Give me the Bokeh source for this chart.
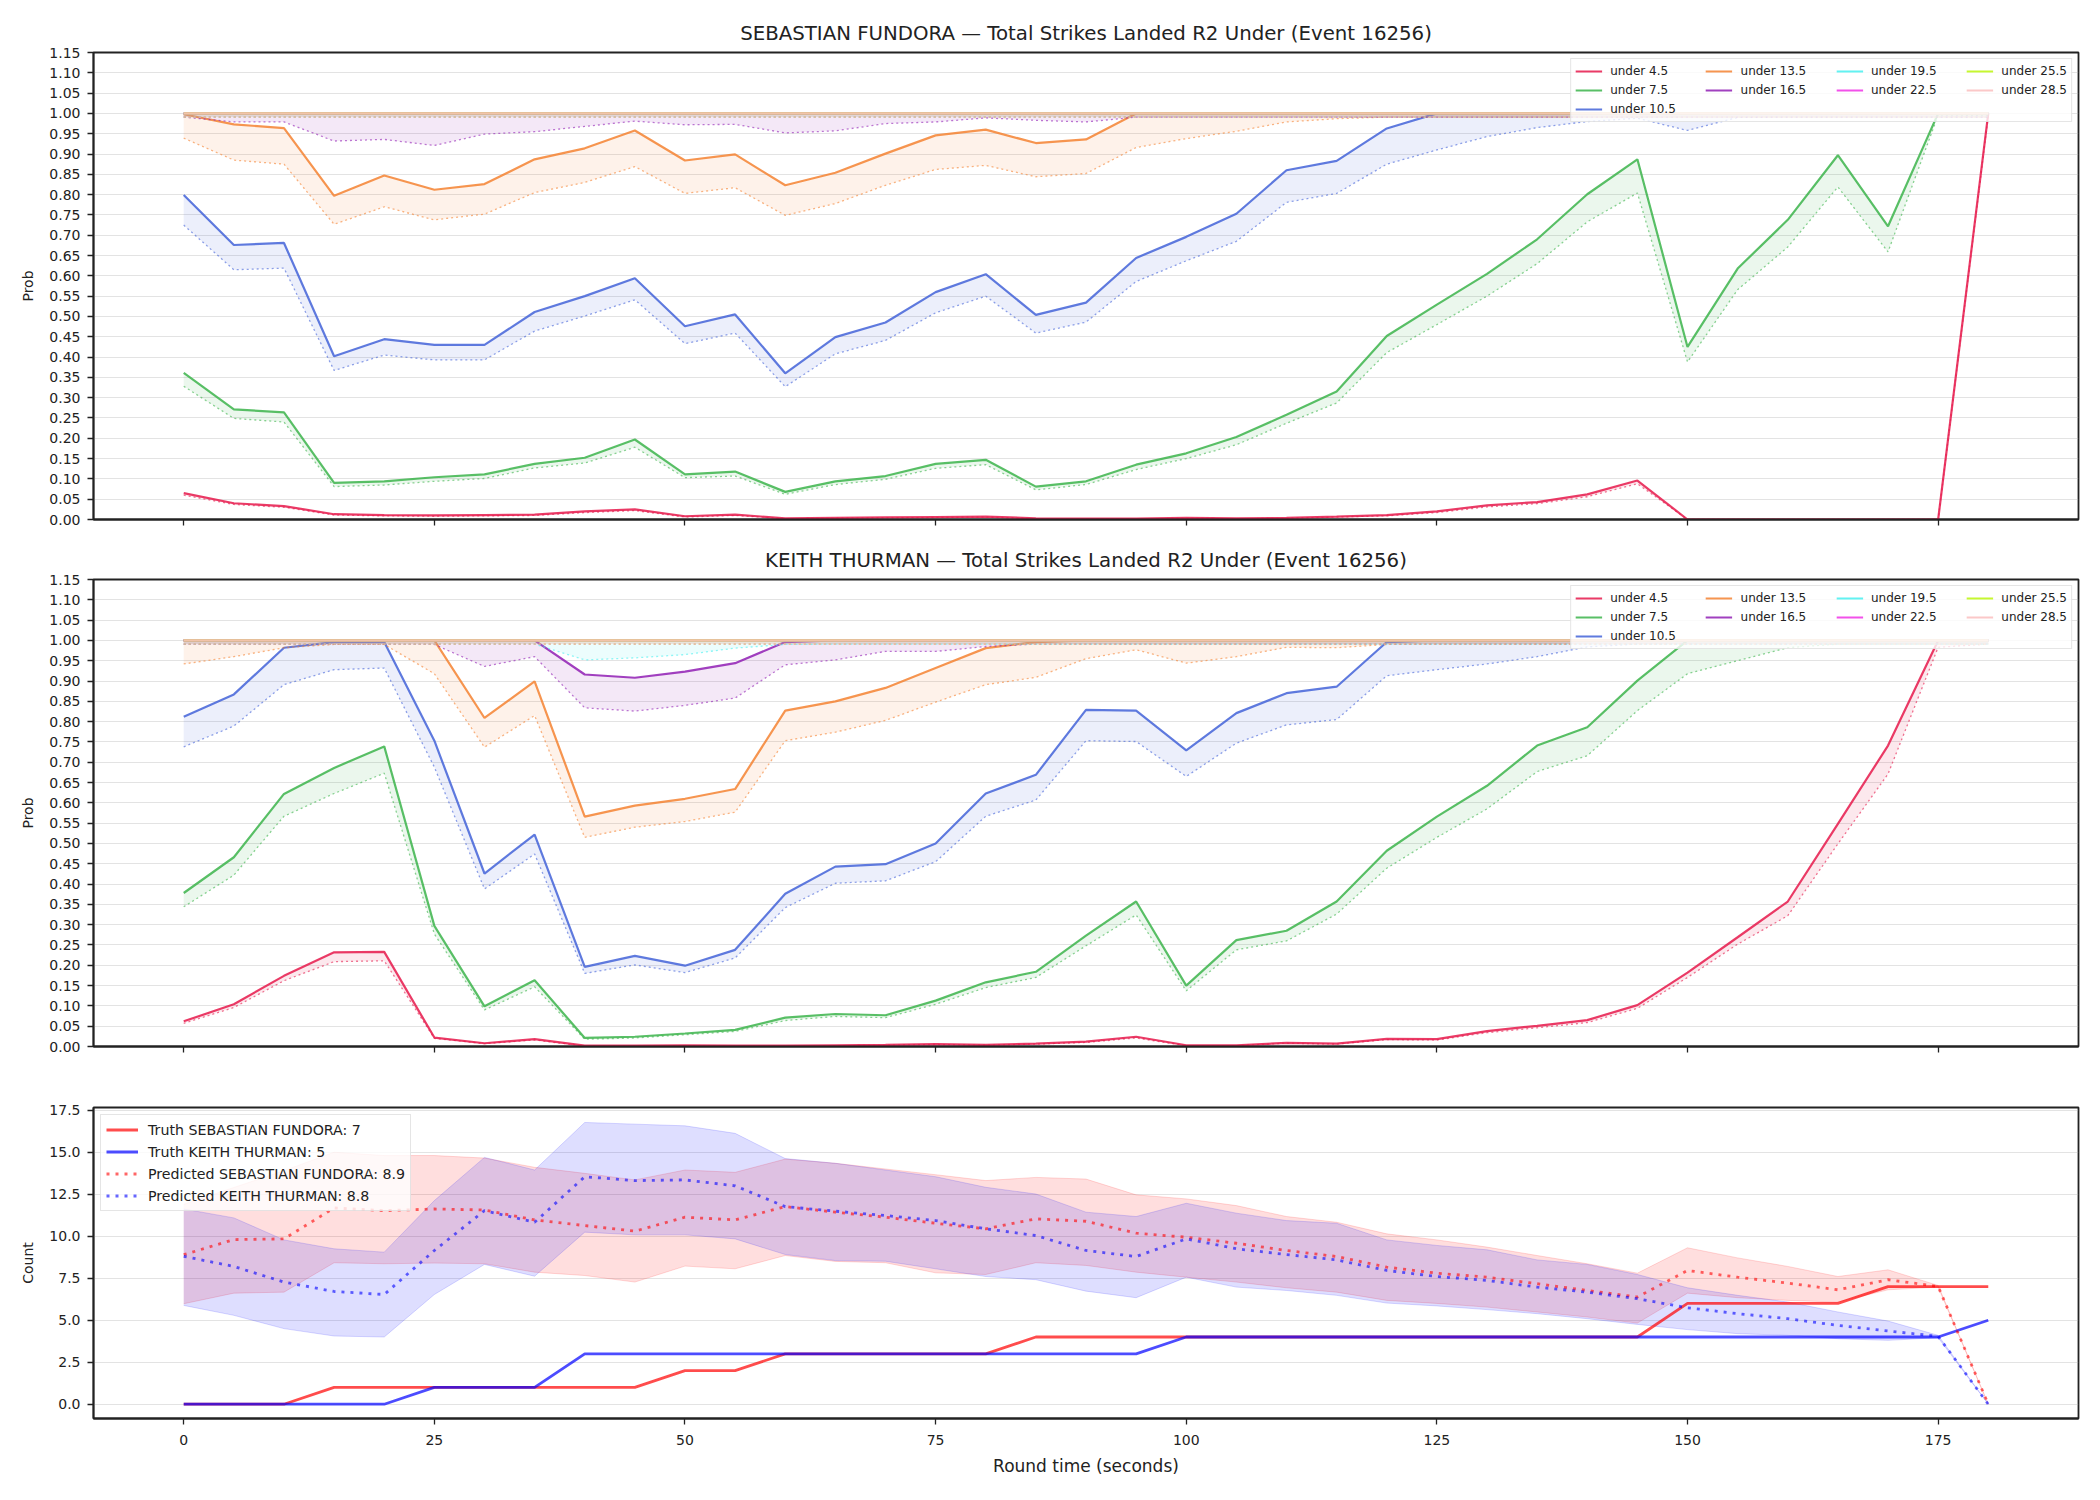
from bokeh.plotting import figure
from bokeh.models import Range1d, FixedTicker, PrintfTickFormatter, Legend, LegendItem
from bokeh.layouts import column
from bokeh.embed import file_html
from bokeh.resources import INLINE

# ---------------------------------------------------------------- data
round_time = [0, 5, 10, 15, 20, 25, 30, 35, 40, 45, 50, 55, 60, 65, 70, 75, 80, 85, 90,
              95, 100, 105, 110, 115, 120, 125, 130, 135, 140, 145, 150, 155, 160, 165,
              170, 175, 180]

line_labels = ["under 4.5", "under 7.5", "under 10.5", "under 13.5", "under 16.5",
               "under 19.5", "under 22.5", "under 25.5", "under 28.5"]
line_colors = ["#e6194b", "#3cb44b", "#4363d8", "#f58231", "#911eb4",
               "#46f0f0", "#f032e6", "#bcf60c", "#fabebe"]

prob_ticks = [0.00, 0.05, 0.10, 0.15, 0.20, 0.25, 0.30, 0.35, 0.40, 0.45, 0.50, 0.55,
              0.60, 0.65, 0.70, 0.75, 0.80, 0.85, 0.90, 0.95, 1.00, 1.05, 1.10, 1.15]
time_ticks = [0, 25, 50, 75, 100, 125, 150, 175]
count_ticks = [0.0, 2.5, 5.0, 7.5, 10.0, 12.5, 15.0, 17.5]

ONE = [1.0, 1.0, 1.0, 1.0, 1.0, 1.0, 1.0, 1.0, 1.0, 1.0, 1.0, 1.0, 1.0, 1.0, 1.0, 1.0, 1.0, 1.0, 1.0,
       1.0, 1.0, 1.0, 1.0, 1.0, 1.0, 1.0, 1.0, 1.0, 1.0, 1.0, 1.0, 1.0, 1.0, 1.0, 1.0, 1.0, 1.0]
NEAR_ONE = [0.991, 0.991, 0.991, 0.991, 0.991, 0.991, 0.991, 0.991, 0.991, 0.991, 0.991, 0.991,
            0.991, 0.991, 0.991, 0.991, 0.991, 0.991, 0.991, 0.991, 0.991, 0.991, 0.991, 0.991,
            0.991, 0.991, 0.991, 0.991, 0.991, 0.991, 0.991, 0.991, 0.991, 0.991, 0.991, 0.991, 0.991]

# SEBASTIAN FUNDORA: solid = model probability, dotted = lower reference curve
fundora_u45 = [0.065, 0.040, 0.033, 0.013, 0.011, 0.010, 0.011, 0.012, 0.020, 0.025, 0.008, 0.012, 0.003,
               0.004, 0.005, 0.006, 0.007, 0.003, 0.002, 0.002, 0.004, 0.003, 0.004, 0.007, 0.011, 0.020,
               0.035, 0.043, 0.062, 0.096, 0.0, 0.0, 0.0, 0.0, 0.0, 0.0, 1.0]
fundora_u45_ref = [0.060, 0.037, 0.030, 0.011, 0.009, 0.008, 0.009, 0.010, 0.017, 0.022, 0.006, 0.010, 0.002,
                   0.003, 0.004, 0.005, 0.006, 0.002, 0.001, 0.001, 0.003, 0.002, 0.003, 0.006, 0.009, 0.017,
                   0.031, 0.039, 0.056, 0.088, 0.0, 0.0, 0.0, 0.0, 0.0, 0.0, 0.995]
fundora_u75 = [0.361, 0.271, 0.264, 0.090, 0.094, 0.104, 0.111, 0.137, 0.152, 0.197, 0.111, 0.118, 0.068,
               0.094, 0.107, 0.137, 0.147, 0.081, 0.094, 0.135, 0.163, 0.203, 0.258, 0.315, 0.452, 0.529,
               0.605, 0.690, 0.801, 0.887, 0.425, 0.618, 0.738, 0.897, 0.722, 1.0, 1.0]
fundora_u75_ref = [0.328, 0.249, 0.240, 0.081, 0.085, 0.094, 0.101, 0.127, 0.139, 0.178, 0.103, 0.107, 0.062,
                   0.086, 0.099, 0.126, 0.135, 0.073, 0.086, 0.123, 0.150, 0.184, 0.237, 0.287, 0.411, 0.480,
                   0.550, 0.630, 0.733, 0.804, 0.388, 0.566, 0.671, 0.819, 0.659, 0.996, 0.995]
fundora_u105 = [0.799, 0.676, 0.681, 0.402, 0.444, 0.430, 0.430, 0.511, 0.550, 0.594, 0.476, 0.505, 0.360,
                0.449, 0.485, 0.560, 0.604, 0.504, 0.534, 0.644, 0.696, 0.753, 0.860, 0.883, 0.963, 1.0,
                1.0, 1.0, 1.0, 1.0, 1.0, 1.0, 1.0, 1.0, 1.0, 1.0, 1.0]
fundora_u105_ref = [0.725, 0.615, 0.619, 0.367, 0.405, 0.393, 0.393, 0.464, 0.501, 0.541, 0.433, 0.459, 0.327,
                    0.408, 0.441, 0.509, 0.550, 0.459, 0.486, 0.586, 0.637, 0.685, 0.781, 0.803, 0.875, 0.910,
                    0.943, 0.965, 0.980, 0.988, 0.958, 0.990, 0.991, 0.991, 0.991, 0.991, 0.991]
fundora_u135 = [0.998, 0.973, 0.964, 0.797, 0.847, 0.812, 0.826, 0.887, 0.914, 0.958, 0.884, 0.899, 0.823,
                0.854, 0.901, 0.946, 0.960, 0.927, 0.936, 1.0, 1.0, 1.0, 1.0, 1.0, 1.0, 1.0,
                1.0, 1.0, 1.0, 1.0, 1.0, 1.0, 1.0, 1.0, 1.0, 1.0, 1.0]
fundora_u135_ref = [0.939, 0.885, 0.875, 0.727, 0.770, 0.738, 0.752, 0.805, 0.830, 0.869, 0.803, 0.817, 0.749,
                    0.778, 0.823, 0.862, 0.872, 0.844, 0.852, 0.916, 0.938, 0.956, 0.979, 0.987, 0.991, 0.991,
                    0.991, 0.991, 0.991, 0.991, 0.991, 0.991, 0.991, 0.991, 0.991, 0.991, 0.991]
fundora_u165 = ONE
fundora_u165_ref = [0.991, 0.979, 0.979, 0.932, 0.936, 0.921, 0.949, 0.955, 0.968, 0.981, 0.972, 0.973, 0.952,
                    0.957, 0.975, 0.979, 0.989, 0.983, 0.979, 0.991, 0.991, 0.991, 0.991, 0.991, 0.991, 0.991,
                    0.991, 0.991, 0.991, 0.991, 0.991, 0.991, 0.991, 0.991, 0.991, 0.991, 0.991]

# KEITH THURMAN
thurman_u45 = [0.062, 0.104, 0.174, 0.232, 0.233, 0.022, 0.008, 0.018, 0.002, 0.002, 0.003, 0.002, 0.002,
               0.003, 0.004, 0.006, 0.004, 0.007, 0.012, 0.024, 0.003, 0.003, 0.009, 0.007, 0.019, 0.018,
               0.038, 0.051, 0.065, 0.102, 0.182, 0.269, 0.357, 0.548, 0.741, 1.0, 1.0]
thurman_u45_ref = [0.057, 0.096, 0.162, 0.209, 0.211, 0.020, 0.007, 0.016, 0.001, 0.001, 0.002, 0.001, 0.001,
                   0.002, 0.003, 0.005, 0.003, 0.006, 0.010, 0.021, 0.002, 0.002, 0.008, 0.006, 0.017, 0.016,
                   0.034, 0.046, 0.059, 0.094, 0.170, 0.252, 0.322, 0.499, 0.671, 0.983, 0.991]
thurman_u75 = [0.378, 0.466, 0.622, 0.686, 0.739, 0.297, 0.099, 0.163, 0.021, 0.024, 0.032, 0.041, 0.071,
               0.080, 0.077, 0.113, 0.158, 0.184, 0.273, 0.357, 0.150, 0.262, 0.285, 0.357, 0.482, 0.566,
               0.642, 0.741, 0.786, 0.901, 1.0, 1.0, 1.0, 1.0, 1.0, 1.0, 1.0]
thurman_u75_ref = [0.344, 0.422, 0.567, 0.623, 0.673, 0.277, 0.090, 0.147, 0.018, 0.021, 0.029, 0.037, 0.064,
                   0.074, 0.071, 0.104, 0.145, 0.170, 0.248, 0.324, 0.137, 0.238, 0.260, 0.326, 0.439, 0.515,
                   0.585, 0.677, 0.716, 0.827, 0.918, 0.950, 0.982, 0.991, 0.991, 0.991, 0.991]
thurman_u105 = [0.812, 0.867, 0.982, 0.996, 0.996, 0.753, 0.426, 0.522, 0.196, 0.223, 0.199, 0.238, 0.376,
                0.443, 0.449, 0.500, 0.623, 0.669, 0.829, 0.827, 0.729, 0.821, 0.870, 0.886, 0.996, 1.0,
                1.0, 1.0, 1.0, 1.0, 1.0, 1.0, 1.0, 1.0, 1.0, 1.0, 1.0]
thurman_u105_ref = [0.738, 0.789, 0.891, 0.928, 0.932, 0.688, 0.388, 0.474, 0.180, 0.201, 0.182, 0.218, 0.342,
                    0.402, 0.408, 0.455, 0.567, 0.607, 0.753, 0.751, 0.665, 0.747, 0.792, 0.805, 0.913, 0.928,
                    0.942, 0.960, 0.984, 0.991, 0.991, 0.991, 0.991, 0.991, 0.991, 0.991, 0.991]
thurman_u135 = [1.0, 1.0, 1.0, 1.0, 1.0, 1.0, 0.809, 0.899, 0.566, 0.593, 0.610, 0.634, 0.827,
                0.850, 0.883, 0.932, 0.981, 0.996, 1.0, 1.0, 1.0, 1.0, 1.0, 1.0, 1.0, 1.0,
                1.0, 1.0, 1.0, 1.0, 1.0, 1.0, 1.0, 1.0, 1.0, 1.0, 1.0]
thurman_u135_ref = [0.942, 0.960, 0.982, 0.990, 0.990, 0.918, 0.737, 0.815, 0.515, 0.540, 0.554, 0.577, 0.753,
                    0.774, 0.803, 0.848, 0.891, 0.909, 0.955, 0.977, 0.944, 0.960, 0.983, 0.982, 0.990, 0.991,
                    0.991, 0.991, 0.991, 0.991, 0.991, 0.991, 0.991, 0.991, 0.991, 0.991, 0.991]
thurman_u165 = [1.0, 1.0, 1.0, 1.0, 1.0, 1.0, 1.0, 1.0, 0.916, 0.908, 0.923, 0.944, 0.996,
                1.0, 1.0, 1.0, 1.0, 1.0, 1.0, 1.0, 1.0, 1.0, 1.0, 1.0, 1.0, 1.0,
                1.0, 1.0, 1.0, 1.0, 1.0, 1.0, 1.0, 1.0, 1.0, 1.0, 1.0]
thurman_u165_ref = [0.990, 0.990, 0.990, 0.990, 0.990, 0.990, 0.936, 0.960, 0.834, 0.826, 0.840, 0.858, 0.940,
                    0.952, 0.973, 0.973, 0.985, 0.991, 0.991, 0.991, 0.991, 0.991, 0.991, 0.991, 0.991, 0.991,
                    0.991, 0.991, 0.991, 0.991, 0.991, 0.991, 0.991, 0.991, 0.991, 0.991, 0.991]
thurman_u195_ref = [0.991, 0.991, 0.991, 0.991, 0.991, 0.991, 0.991, 0.991, 0.952, 0.957, 0.965, 0.981, 0.990,
                    0.991, 0.991, 0.991, 0.991, 0.991, 0.991, 0.991, 0.991, 0.991, 0.991, 0.991, 0.991, 0.991,
                    0.991, 0.991, 0.991, 0.991, 0.991, 0.991, 0.991, 0.991, 0.991, 0.991, 0.991]

# Strike counts
truth_fundora = [0, 0, 0, 1, 1, 1, 1, 1, 1, 1, 2, 2, 3, 3, 3, 3, 3, 4, 4, 4, 4, 4, 4, 4, 4, 4,
                 4, 4, 4, 4, 6, 6, 6, 6, 7, 7, 7]
truth_thurman = [0, 0, 0, 0, 0, 1, 1, 1, 3, 3, 3, 3, 3, 3, 3, 3, 3, 3, 3, 3, 4, 4, 4, 4, 4, 4,
                 4, 4, 4, 4, 4, 4, 4, 4, 4, 4, 5]
pred_fundora = [8.9, 9.80, 9.84, 11.68, 11.52, 11.62, 11.56, 10.97, 10.63, 10.30, 11.13, 10.97, 11.76,
                11.43, 11.13, 10.77, 10.44, 11.03, 10.89, 10.18, 9.94, 9.58, 9.15, 8.79, 8.16, 7.80,
                7.56, 7.17, 6.77, 6.38, 7.96, 7.56, 7.21, 6.81, 7.41, 7.01, 0.0]
pred_fundora_hi = [11.9, 12.9, 13.9, 15.0, 14.8, 14.8, 14.65, 14.1, 13.74, 13.35, 13.94, 13.8, 14.59,
                   14.34, 14.0, 13.66, 13.31, 13.5, 13.4, 12.46, 12.22, 11.82, 11.17, 10.83, 10.14, 9.78,
                   9.35, 8.85, 8.36, 7.80, 9.31, 8.71, 8.20, 7.60, 8.0, 7.07, 0.0]
pred_fundora_lo = [5.98, 6.61, 6.67, 8.42, 8.36, 8.40, 8.36, 7.86, 7.66, 7.27, 8.22, 8.06, 8.85,
                   8.50, 8.42, 7.82, 7.72, 8.42, 8.26, 7.86, 7.56, 7.27, 6.93, 6.67, 6.18, 6.0,
                   5.78, 5.49, 5.19, 4.83, 6.61, 6.34, 6.18, 6.08, 6.81, 6.97, 0.0]
pred_thurman = [8.8, 8.20, 7.27, 6.71, 6.53, 9.15, 11.52, 10.83, 13.54, 13.31, 13.35, 13.0, 11.76,
                11.49, 11.23, 10.93, 10.44, 10.04, 9.15, 8.79, 9.84, 9.25, 8.91, 8.59, 7.96, 7.60,
                7.37, 6.97, 6.67, 6.28, 5.74, 5.39, 5.09, 4.69, 4.36, 4.04, 0.0]
pred_thurman_hi = [11.62, 11.09, 9.78, 9.25, 9.05, 12.12, 14.69, 13.94, 16.77, 16.67, 16.57, 16.12, 14.62,
                   14.34, 13.94, 13.54, 12.91, 12.51, 11.43, 11.17, 11.96, 11.37, 10.93, 10.77, 9.78, 9.45,
                   9.19, 8.59, 8.32, 7.72, 6.93, 6.48, 6.08, 5.49, 4.95, 4.10, 0.0]
pred_thurman_lo = [5.88, 5.29, 4.50, 4.06, 4.0, 6.53, 8.32, 7.62, 10.24, 10.08, 10.08, 9.84, 8.91,
                   8.55, 8.51, 8.06, 7.60, 7.41, 6.73, 6.34, 7.56, 6.97, 6.77, 6.48, 6.02, 5.85,
                   5.63, 5.39, 5.09, 4.75, 4.44, 4.20, 4.10, 3.90, 3.80, 3.96, 0.0]

FONT = "DejaVu Sans"
INK = "#222222"
FIG_W = 2100
BORDER_L, BORDER_R = 93, 22


def style_axes(p):
    p.outline_line_color = INK
    p.outline_line_width = 1.8
    p.background_fill_color = "white"
    p.border_fill_color = "white"
    for ax in p.axis:
        ax.axis_line_color = INK
        ax.axis_line_width = 1.8
        ax.major_tick_line_color = INK
        ax.major_tick_line_width = 1.3
        ax.major_tick_out = 6
        ax.major_tick_in = 0
        ax.minor_tick_line_color = None
        ax.major_label_text_font = FONT
        ax.major_label_text_font_size = "14px"
        ax.major_label_text_color = INK
        ax.major_label_standoff = 7
        ax.axis_label_text_font = FONT
        ax.axis_label_text_font_style = "normal"
        ax.axis_label_text_color = INK
    p.xgrid.grid_line_color = None
    p.ygrid.grid_line_color = "#b0b0b0"
    p.ygrid.grid_line_alpha = 0.35
    p.ygrid.grid_line_width = 1.2
    p.xaxis.ticker = FixedTicker(ticks=time_ticks)
    if p.title is not None:
        p.title.text_font = FONT
        p.title.text_font_size = "19.75px"
        p.title.text_font_style = "normal"
        p.title.text_color = INK
        p.title.align = "center"
        p.title.standoff = 16


def prob_panel(title, solids, refs, height, top, bottom):
    p = figure(width=FIG_W, height=height, title=title,
               x_range=Range1d(-9, 189), y_range=Range1d(0, 1.15),
               output_backend="svg", toolbar_location=None,
               min_border_left=BORDER_L, min_border_right=BORDER_R,
               min_border_top=top, min_border_bottom=bottom)
    style_axes(p)
    p.yaxis.ticker = FixedTicker(ticks=prob_ticks)
    p.yaxis.formatter = PrintfTickFormatter(format="%.2f")
    p.yaxis.axis_label = "Prob"
    p.yaxis.axis_label_text_font_size = "14px"
    p.yaxis.axis_label_standoff = 10
    p.xaxis.major_label_overrides = {t: "" for t in time_ticks}

    handles = {}
    for label, color, ys, yr in zip(line_labels, line_colors, solids, refs):
        p.varea(x=round_time, y1=yr, y2=ys, fill_color=color, fill_alpha=0.1)
        handles[label] = p.line(round_time, ys, line_color=color, line_alpha=0.85, line_width=2.2)
        p.line(round_time, yr, line_color=color, line_alpha=0.6, line_width=1.3, line_dash="2 3")

    # four legend columns: (4.5, 7.5, 10.5) (13.5, 16.5) (19.5, 22.5) (25.5, 28.5)
    pad = "       "
    order = [("under 4.5", pad), ("under 13.5", pad), ("under 19.5", pad), ("under 25.5", ""),
             ("under 7.5", pad), ("under 16.5", pad), ("under 22.5", pad), ("under 28.5", ""),
             ("under 10.5", pad)]
    items = [LegendItem(label=name + extra, renderers=[handles[name]]) for name, extra in order]
    leg = Legend(items=items, location="top_right", orientation="horizontal", ncols=4,
                 label_text_font=FONT, label_text_font_size="12px", label_text_color=INK,
                 glyph_width=27, glyph_height=16, label_height=16, label_standoff=8,
                 spacing=3, padding=4, margin=6,
                 border_line_color="#cccccc", border_line_width=1.2,
                 background_fill_color="white", background_fill_alpha=0.8)
    p.add_layout(leg)
    return p


p1 = prob_panel("SEBASTIAN FUNDORA \u2014 Total Strikes Landed R2 Under (Event 16256)",
                [fundora_u45, fundora_u75, fundora_u105, fundora_u135, fundora_u165, ONE, ONE, ONE, ONE],
                [fundora_u45_ref, fundora_u75_ref, fundora_u105_ref, fundora_u135_ref, fundora_u165_ref,
                 NEAR_ONE, NEAR_ONE, NEAR_ONE, NEAR_ONE],
                height=538, top=52, bottom=19)
p2 = prob_panel("KEITH THURMAN \u2014 Total Strikes Landed R2 Under (Event 16256)",
                [thurman_u45, thurman_u75, thurman_u105, thurman_u135, thurman_u165, ONE, ONE, ONE, ONE],
                [thurman_u45_ref, thurman_u75_ref, thurman_u105_ref, thurman_u135_ref, thurman_u165_ref,
                 thurman_u195_ref, NEAR_ONE, NEAR_ONE, NEAR_ONE],
                height=532, top=41, bottom=24)

# ---------------------------------------------------------------- counts panel
p3 = figure(width=FIG_W, height=428,
            x_range=Range1d(-9, 189), y_range=Range1d(-0.85, 17.66),
            output_backend="svg", toolbar_location=None,
            min_border_left=BORDER_L, min_border_right=BORDER_R,
            min_border_top=37, min_border_bottom=80)
style_axes(p3)
p3.yaxis.ticker = FixedTicker(ticks=count_ticks)
p3.yaxis.formatter = PrintfTickFormatter(format="%.1f")
p3.yaxis.axis_label = "Count"
p3.yaxis.axis_label_text_font_size = "14px"
p3.yaxis.axis_label_standoff = 10
p3.xaxis.axis_label = "Round time (seconds)"
p3.xaxis.axis_label_text_font_size = "17px"
p3.xaxis.axis_label_standoff = 8
p3.xaxis.major_label_standoff = 10

RED, BLUE = "#ff0000", "#0000ff"
p3.varea(x=round_time, y1=pred_fundora_lo, y2=pred_fundora_hi, fill_color=RED, fill_alpha=0.13)
p3.line(round_time, pred_fundora_lo, line_color=RED, line_alpha=0.15, line_width=1)
p3.line(round_time, pred_fundora_hi, line_color=RED, line_alpha=0.15, line_width=1)
p3.varea(x=round_time, y1=pred_thurman_lo, y2=pred_thurman_hi, fill_color=BLUE, fill_alpha=0.13)
p3.line(round_time, pred_thurman_lo, line_color=BLUE, line_alpha=0.15, line_width=1)
p3.line(round_time, pred_thurman_hi, line_color=BLUE, line_alpha=0.15, line_width=1)

r_tf = p3.line(round_time, truth_fundora, line_color=RED, line_alpha=0.7, line_width=2.8)
r_tt = p3.line(round_time, truth_thurman, line_color=BLUE, line_alpha=0.7, line_width=2.8)
r_pf = p3.line(round_time, pred_fundora, line_color=RED, line_alpha=0.6, line_width=2.8, line_dash="3 6")
r_pt = p3.line(round_time, pred_thurman, line_color=BLUE, line_alpha=0.6, line_width=2.8, line_dash="3 6")

leg3 = Legend(items=[
    LegendItem(label="Truth SEBASTIAN FUNDORA: %d" % truth_fundora[-1], renderers=[r_tf]),
    LegendItem(label="Truth KEITH THURMAN: %d" % truth_thurman[-1], renderers=[r_tt]),
    LegendItem(label="Predicted SEBASTIAN FUNDORA: %.1f" % pred_fundora[0], renderers=[r_pf]),
    LegendItem(label="Predicted KEITH THURMAN: %.1f" % pred_thurman[0], renderers=[r_pt]),
], location="top_left", label_text_font=FONT, label_text_font_size="14.2px", label_text_color=INK,
    glyph_width=32, glyph_height=19, label_height=19, label_standoff=10, spacing=3,
    padding=5, margin=7, border_line_color="#cccccc", border_line_width=1.2,
    background_fill_color="white", background_fill_alpha=0.8)
p3.add_layout(leg3)

layout = column(p1, p2, p3, spacing=0)
open("out.html", "w").write(file_html(layout, INLINE))
